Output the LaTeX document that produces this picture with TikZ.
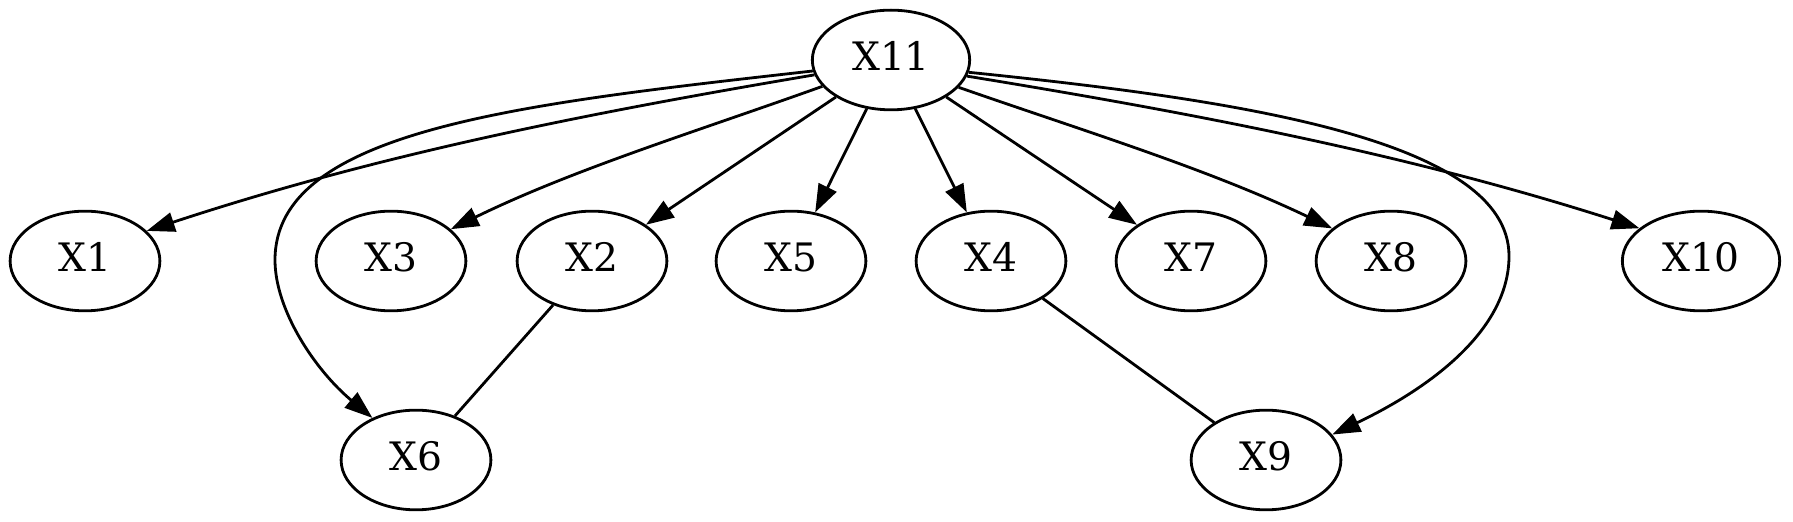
\documentclass[tikz,border=0pt]{standalone}
\usepackage{fontspec}
\setmainfont{DejaVu Serif}
\usetikzlibrary{arrows.meta,shapes.geometric}
\begin{document}
\begin{tikzpicture}[x={(0.357143pt,0)}, y={(0,-0.357143pt)},
  vnode/.style={draw, ellipse, line width=1pt, inner sep=0pt,
    minimum width=53.5pt, minimum height=35.6pt,
    font=\fontsize{14pt}{16pt}\selectfont, text height=10.2pt, text depth=2.8pt},
  wide/.style={minimum width=56.2pt},
  edge/.style={line width=1pt, -{Triangle[length=10pt,width=7pt]}},
  link/.style={line width=1pt}]
\useasboundingbox[fill=white] (0,0) rectangle (1793,522);
% nodes
\node[vnode,wide] (X11) at (891,60) {X11};
\node[vnode] (X1) at (85,261) {X1};
\node[vnode] (X3) at (391,261) {X3};
\node[vnode] (X2) at (592,261) {X2};
\node[vnode] (X5) at (791,261) {X5};
\node[vnode] (X4) at (991,261) {X4};
\node[vnode] (X7) at (1191,261) {X7};
\node[vnode] (X8) at (1391,261) {X8};
\node[vnode,wide] (X10) at (1701,261) {X10};
\node[vnode] (X6) at (416,460) {X6};
\node[vnode] (X9) at (1266,460) {X9};
% straight edges
\draw[edge] (X11) -- (X2);
\draw[edge] (X11) -- (X5);
\draw[edge] (X11) -- (X4);
\draw[edge] (X11) -- (X7);
% curved edges
\draw[edge] (X11.191.6) .. controls (583,114) and (377,155) .. (X1.26.6);
\draw[edge] (X11.201.8) .. controls (698,131) and (574,169) .. (X3.28.1);
\draw[edge] (X11.338.4) .. controls (1084,131) and (1208,169) .. (X8.151);
\draw[edge] (X11.348.4) .. controls (1199,114) and (1411,155) .. (X10.152.5);
\coordinate (c6) at (275,260);
\coordinate (c9) at (1509,256);
\draw[edge] (X11.188.5) .. controls (520,104) and (275,130) .. (c6)
  .. controls (275,310) and (315,370) .. (X6.136.4);
\draw[edge] (X11.351.5) .. controls (1240,100) and (1509,140) .. (c9)
  .. controls (1509,330) and (1430,388) .. (X9.21);
% undirected links
\draw[link] (X2) -- (X6);
\draw[link] (X4) -- (X9);
\end{tikzpicture}
\end{document}
